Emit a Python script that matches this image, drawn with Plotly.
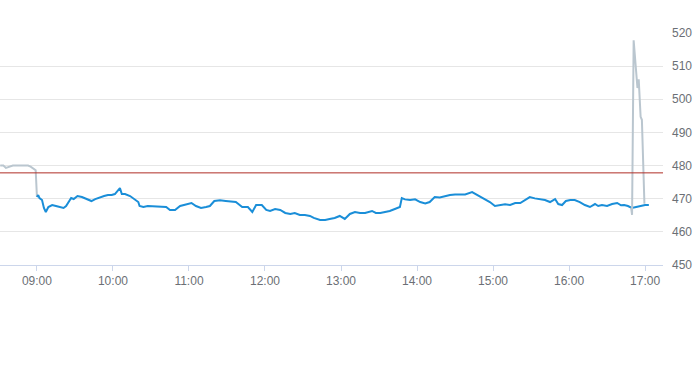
import plotly.graph_objects as go

DAY = "2024-01-15 "

# Pre-market (gray) series
pre_times = ["08:31:00", "08:33:30", "08:35:30", "08:38:30", "08:41:00", "08:46:30",
             "08:53:00", "08:55:00", "08:57:30", "08:59:00", "09:00:00"]
pre_vals = [480.0, 480.0, 479.3, 479.7, 480.0, 480.0, 480.0, 479.7, 479.0, 478.6, 470.5]

# Main session (blue) series
main_times = ["09:00:00", "09:01:00", "09:02:00", "09:04:00", "09:05:30", "09:07:00", "09:09:00",
              "09:12:00", "09:15:00", "09:18:00", "09:21:00", "09:23:00", "09:24:30", "09:27:00",
              "09:29:00", "09:32:00", "09:35:30", "09:40:00", "09:43:00", "09:46:00", "09:50:00",
              "09:53:00", "09:56:00", "09:59:00", "10:01:30", "10:04:00", "10:05:30", "10:07:00",
              "10:09:30", "10:13:30", "10:16:30", "10:20:00", "10:21:00", "10:24:00", "10:27:30",
              "10:33:00", "10:37:00", "10:42:00", "10:45:00", "10:49:00", "10:53:00", "10:57:00",
              "11:02:00", "11:05:30", "11:09:30", "11:13:30", "11:16:30", "11:20:00", "11:24:30",
              "11:29:00", "11:34:00", "11:37:00", "11:42:00", "11:46:30", "11:50:00", "11:53:00",
              "11:57:30", "12:01:00", "12:04:00", "12:08:00", "12:12:00", "12:16:00", "12:20:00",
              "12:23:30", "12:27:30", "12:31:30", "12:35:30", "12:38:30", "12:43:30", "12:47:30",
              "12:51:00", "12:55:00", "12:59:00", "13:03:00", "13:07:00", "13:11:00", "13:15:00",
              "13:19:00", "13:24:30", "13:27:30", "13:31:00", "13:34:30", "13:38:30", "13:42:30",
              "13:46:30", "13:48:00", "13:50:30", "13:54:30", "13:58:30", "14:02:30", "14:06:30",
              "14:10:00", "14:14:00", "14:18:00", "14:22:00", "14:26:00", "14:30:00", "14:34:00",
              "14:38:00", "14:43:30", "14:46:30", "14:50:00", "14:54:30", "14:57:30", "15:01:30",
              "15:05:30", "15:09:30", "15:13:30", "15:17:30", "15:21:30", "15:25:30", "15:29:00",
              "15:33:00", "15:37:00", "15:41:00", "15:45:00", "15:49:00", "15:51:30", "15:54:30",
              "15:57:30", "16:01:00", "16:04:30", "16:08:30", "16:12:30", "16:16:30", "16:20:30",
              "16:23:00", "16:26:00", "16:30:00", "16:34:00", "16:38:00", "16:41:00", "16:43:30",
              "16:46:30", "16:49:30", "16:53:00", "16:56:00", "17:00:00", "17:03:00"]
main_vals = [470.5, 471.1, 470.2, 469.6, 467.2, 466.0, 467.5,
             468.1, 467.8, 467.5, 467.2, 467.8, 468.7, 470.2,
             469.9, 470.8, 470.5, 469.9, 469.3, 469.9, 470.5,
             470.8, 471.1, 471.1, 471.4, 472.6, 473.2, 471.4,
             471.4, 470.8, 469.9, 469.0, 467.8, 467.5, 467.8,
             467.6, 467.5, 467.5, 466.6, 466.6, 467.8, 468.1,
             468.7, 467.8, 467.2, 467.5, 467.8, 469.3, 469.5,
             469.3, 469.2, 469.0, 467.5, 467.5, 466.0, 468.1,
             468.1, 466.6, 466.3, 466.9, 466.6, 465.7, 465.4,
             465.7, 465.1, 465.1, 464.8, 464.2, 463.6, 463.6,
             463.9, 464.2, 464.8, 463.9, 465.4, 466.0, 465.7,
             465.7, 466.3, 465.7, 465.7, 466.0, 466.3, 466.9,
             467.5, 470.2, 469.8, 469.6, 469.8, 469.0, 468.6,
             469.0, 470.5, 470.4, 470.8, 471.1, 471.3, 471.4,
             471.3, 472.0, 471.4, 470.5, 469.6, 469.0, 467.8,
             468.0, 468.3, 468.1, 468.7, 468.7, 469.6, 470.5,
             470.1, 469.9, 469.6, 469.0, 469.9, 468.4, 468.1,
             469.3, 469.6, 469.6, 469.0, 468.1, 467.5, 468.4,
             467.8, 468.1, 467.8, 468.4, 468.7, 468.0, 468.1,
             467.8, 467.2, 467.5, 467.8, 468.1, 468.1]

# After-hours spike (gray) series
post_times = ["16:49:00", "16:49:45", "16:51:00", "16:52:00", "16:53:30", "16:54:00",
              "16:55:00", "16:56:30", "16:57:30", "16:59:30"]
post_vals = [467.3, 465.1, 517.8, 513.0, 507.3, 503.4, 506.0, 494.7, 493.8, 468.5]

reference_level = 477.8

y_ticks = [450, 460, 470, 480, 490, 500, 510, 520]

def ts(lst):
    return [DAY + t for t in lst]

GRAY = "#bac6cf"
BLUE = "#1a8ed8"
TEXT = "#6b6f75"

fig = go.Figure()
fig.add_trace(go.Scatter(x=ts(pre_times), y=pre_vals, mode="lines",
                         line=dict(color=GRAY, width=2), hoverinfo="skip"))
fig.add_trace(go.Scatter(x=ts(main_times), y=main_vals, mode="lines",
                         line=dict(color=BLUE, width=2), hoverinfo="skip"))
fig.add_trace(go.Scatter(x=ts(post_times), y=post_vals, mode="lines",
                         line=dict(color=GRAY, width=2), hoverinfo="skip"))

fig.add_shape(type="line", xref="paper", x0=0, x1=1, yref="y",
              y0=reference_level, y1=reference_level,
              line=dict(color="#b02e26", width=1))

fig.update_layout(
    width=693, height=365,
    margin=dict(l=0, r=30, t=33, b=100),
    paper_bgcolor="white", plot_bgcolor="white",
    showlegend=False,
    font=dict(family="Liberation Sans, Arial, sans-serif", size=12, color=TEXT),
    xaxis=dict(
        type="date", automargin=False,
        range=[DAY + "08:30:50", DAY + "17:14:10"],
        tickformat="%H:%M", dtick=3600000,
        tick0=DAY + "09:00:00",
        showgrid=False, zeroline=False,
        showline=True, linecolor="#ccd6eb", linewidth=1,
        ticks="outside", ticklen=5, tickcolor="#ccd6eb",
        tickfont=dict(size=12, color=TEXT),
    ),
    yaxis=dict(
        side="right", automargin=False,
        range=[450, 520],
        tickvals=y_ticks,
        showgrid=True, gridcolor="#e6e6e6", gridwidth=1,
        zeroline=False, showline=False,
        ticks="", ticklabelstandoff=8,
        tickfont=dict(size=12, color=TEXT),
    ),
)

fig.write_html("out.html")
